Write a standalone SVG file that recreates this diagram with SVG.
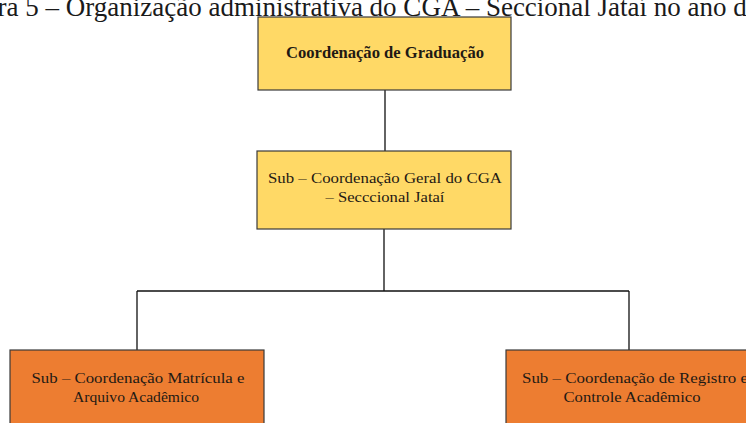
<svg xmlns="http://www.w3.org/2000/svg" width="746" height="423" viewBox="0 0 746 423">
<style>
.t{fill:#1f1a14;text-anchor:middle}
.y{fill:#ffd966;stroke:#3a3a3a;stroke-width:1.2}
.o{fill:#ed7d31;stroke:#3a3a3a;stroke-width:1.2}
.c{stroke:#111;stroke-width:1.3;fill:none}
</style>
<rect width="746" height="423" fill="#fff"/>
<g id="connectors">
<path class="c" d="M385 90V151M384 229V291M137 291H629M137 291V350M629 291V350"/>
</g>
<g font-family="Liberation Serif, Times New Roman, serif" font-size="15.5">
<g id="n1">
<rect class="y" x="258" y="17" width="253" height="73"/>
<text class="t" x="385" y="58" font-size="16.5" font-weight="bold" textLength="198" lengthAdjust="spacingAndGlyphs">Coordenação de Graduação</text>
</g>
<g id="n2">
<rect class="y" x="257" y="151" width="254" height="78"/>
<text class="t" x="385" y="183" textLength="234" lengthAdjust="spacingAndGlyphs">Sub – Coordenação  Geral do CGA</text>
<text class="t" x="385" y="202" textLength="119" lengthAdjust="spacingAndGlyphs">– Secccional  Jataí</text>
</g>
<g id="n3">
<rect class="o" x="10" y="350" width="254" height="80"/>
<text class="t" x="138" y="383" textLength="213" lengthAdjust="spacingAndGlyphs">Sub – Coordenação  Matrícula e</text>
<text class="t" x="136" y="402" textLength="126" lengthAdjust="spacingAndGlyphs">Arquivo Acadêmico</text>
</g>
<g id="n4">
<rect class="o" x="506" y="350" width="254" height="80"/>
<text class="t" x="635" y="383" textLength="226" lengthAdjust="spacingAndGlyphs">Sub – Coordenação  de Registro e</text>
<text class="t" x="632" y="402" textLength="137" lengthAdjust="spacingAndGlyphs">Controle Acadêmico</text>
</g>
</g>
<text x="-52" y="15.5" font-family="Liberation Serif, Times New Roman, serif" font-size="27" fill="#1a1a1a">Figura 5 – Organização administrativa do CGA – Seccional Jataí no ano de</text>
</svg>
